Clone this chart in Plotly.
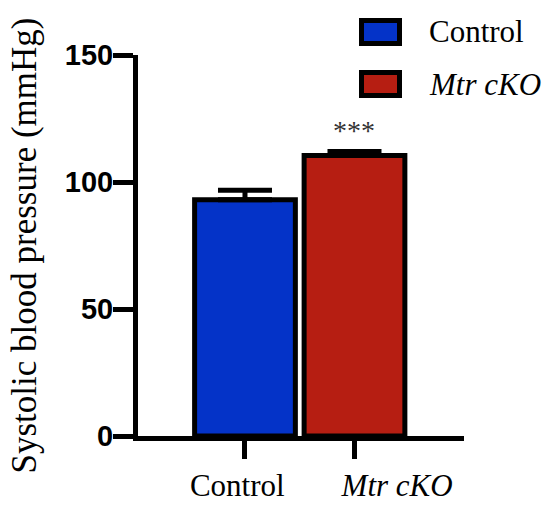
import plotly.graph_objects as go

categories = ["Control", "Mtr cKO"]
tick_labels = ["Control&nbsp;&nbsp;", "&nbsp;" * 11 + "<i>Mtr cKO</i>"]
legend_labels = ["Control", "<i>Mtr cKO</i>"]
means = [93, 110.4]
sem = [3.8, 1.6]
significance = ["", "***"]
colors = ["#0433C8", "#B61E12"]

W, H = 546, 505
L, R, T, B = 138, 82, 55, 69
PW, PH = W - L - R, H - T - B

def px_x(p):
    return (p - L) / PW

def px_y(p):
    return (H - B - p) / PH

xpos = list(range(len(categories)))

fig = go.Figure()
fig.add_trace(go.Bar(
    x=xpos, y=means, width=0.92,
    marker=dict(color=colors, line=dict(color="black", width=5)),
    error_y=dict(type="data", symmetric=False, array=sem, arrayminus=[0] * len(sem),
                 color="black", thickness=5, width=27),
    showlegend=False,
))

for i, s in enumerate(significance):
    if s:
        fig.add_annotation(x=xpos[i], y=means[i] + sem[i] + 1.5, text=s, showarrow=False,
                           yanchor="bottom", font=dict(family="Liberation Serif", size=28, color="#333333"))

# legend drawn as layout shapes/annotations
box_tops = [20.5, 72.5]
for i, lab in enumerate(legend_labels):
    fig.add_shape(type="rect", xref="paper", yref="paper",
                  x0=px_x(361.5), x1=px_x(399.5), y0=px_y(box_tops[i]), y1=px_y(box_tops[i] + 23),
                  fillcolor=colors[i], line=dict(color="black", width=5))
    fig.add_annotation(xref="paper", yref="paper", x=px_x(427), y=px_y(box_tops[i] + 11.5),
                       text=lab, showarrow=False, xanchor="left", yanchor="middle",
                       font=dict(family="Liberation Serif", size=31, color="black"))

fig.update_layout(
    width=W, height=H,
    margin=dict(l=L, r=R, t=T, b=B),
    paper_bgcolor="white", plot_bgcolor="white",
    showlegend=False,
)
fig.update_xaxes(
    range=[-0.977, 2.0], tickvals=xpos, ticktext=tick_labels, tickangle=0,
    showline=True, linecolor="black", linewidth=5,
    ticks="outside", ticklen=18, tickwidth=5, tickcolor="black",
    ticklabelstandoff=0, automargin=False,
    tickfont=dict(family="Liberation Serif", size=31, color="black"),
    showgrid=False, zeroline=False,
)
fig.update_yaxes(
    range=[0, 150], tickvals=[0, 50, 100, 150],
    showline=True, linecolor="black", linewidth=5,
    ticks="outside", ticklen=20, tickwidth=5, tickcolor="black",
    ticklabelstandoff=-6, automargin=False,
    tickfont=dict(family="Liberation Sans", size=29, color="black", weight="bold"),
    title=dict(text="Systolic blood pressure (mmHg)", standoff=19,
               font=dict(family="Liberation Serif", size=35, color="black")),
    showgrid=False, zeroline=False,
)

fig.write_html("out.html", config={"displayModeBar": False},
               post_script="document.body.style.margin='0px';")
